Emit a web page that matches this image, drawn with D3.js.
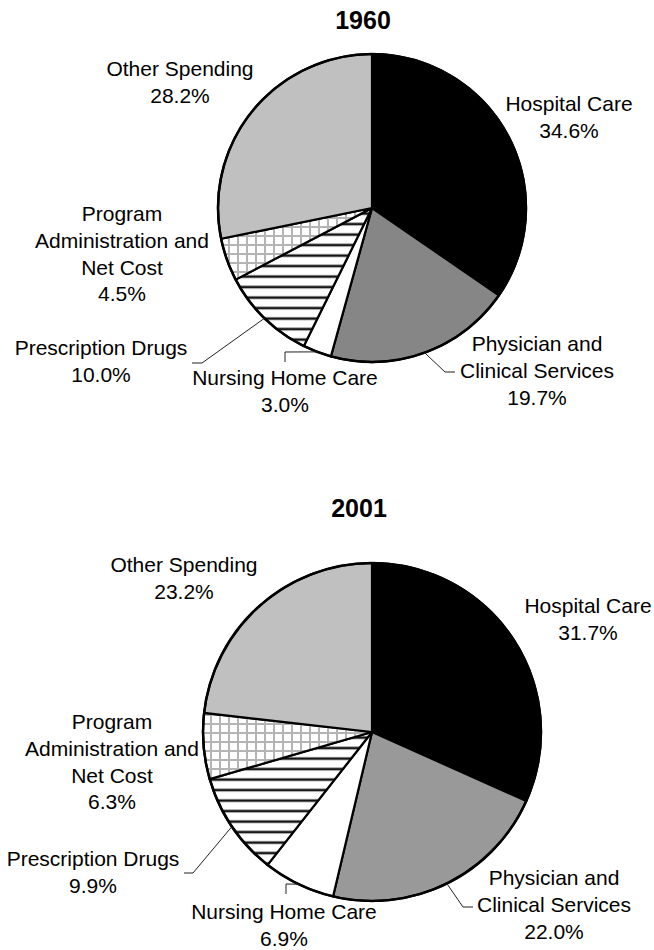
<!DOCTYPE html>
<html><head><meta charset="utf-8">
<script src="https://cdn.jsdelivr.net/npm/d3@7"></script>
<style>body{margin:0;background:#fff}svg{display:block}text{font-family:"Liberation Sans",Arial,sans-serif;fill:#000}</style>
</head><body><div id="chart"></div>
<script>
const categories = ["Hospital Care","Physician and Clinical Services","Nursing Home Care","Prescription Drugs","Program Administration and Net Cost","Other Spending"];
const labelLines = [["Hospital Care"],["Physician and","Clinical Services"],["Nursing Home Care"],["Prescription Drugs"],["Program","Administration and","Net Cost"],["Other Spending"]];
const years = ["1960","2001"];
const values1960 = [34.6,19.7,3.0,10.0,4.5,28.2];
const values2001 = [31.7,22.0,6.9,9.9,6.3,23.2];

const W=654,H=950;
const svg=d3.select("#chart").append("svg").attr("width",W).attr("height",H);
const defs=svg.append("defs");
// stripes
const st=defs.append("pattern").attr("id","stripes").attr("patternUnits","userSpaceOnUse").attr("width",10).attr("height",10.5);
st.append("rect").attr("width",10).attr("height",10.5).attr("fill","#fff");
st.append("rect").attr("y",4).attr("width",10).attr("height",3.2).attr("fill","#9a9a9a");
st.append("rect").attr("y",4.6).attr("width",10).attr("height",2).attr("fill","#111");
// grid
const gr=defs.append("pattern").attr("id","grid").attr("patternUnits","userSpaceOnUse").attr("width",9).attr("height",9);
gr.append("rect").attr("width",9).attr("height",9).attr("fill","#fff");
gr.append("rect").attr("x",0).attr("width",2).attr("height",9).attr("fill","#b4b4b4");
gr.append("rect").attr("y",0).attr("width",9).attr("height",2).attr("fill","#b4b4b4");

const layouts=[
 {cx:372,cy:208,r:154,title:[363,29],fills:["#000","#868686","#fff","url(#stripes)","url(#grid)","#c0c0c0"],
  labels:[[569,111],[537,351],[285,385],[101,355],[122,221],[180,76]],
  leaders:{1:[[445,372],[455,372]],2:[[285,352],[285,362]],3:[[202,363],[192,363]]}},
 {cx:372,cy:732,r:169,title:[359,517],fills:["#000","#999999","#fff","url(#stripes)","url(#grid)","#c0c0c0"],
  labels:[[588,613],[554,885],[284,919],[93,866],[112,729],[184,572]],
  leaders:{1:[[463,907],[473,907]],2:[[286,884],[286,894]],3:[[193,873],[184,873]]}}
];
const data=[values1960,values2001];
const LH=26.8;

layouts.forEach((L,k)=>{
  const vals=data[k];
  const pie=d3.pie().sort(null).value(d=>d)(vals);
  const arc=d3.arc().innerRadius(0).outerRadius(L.r);
  const edge=d3.arc().innerRadius(L.r).outerRadius(L.r);
  const g=svg.append("g").attr("transform",`translate(${L.cx},${L.cy})`);
  g.selectAll("path.slice").data(pie).join("path").attr("class","slice")
   .attr("d",arc).attr("fill",(d,i)=>L.fills[i]).attr("stroke","#000").attr("stroke-width",2.2).attr("stroke-linejoin","round");
  g.append("circle").attr("r",L.r).attr("fill","none").attr("stroke","#000").attr("stroke-width",2.5);
  svg.append("text").attr("x",L.title[0]).attr("y",L.title[1]).attr("text-anchor","middle")
   .attr("font-size",25).attr("font-weight","bold").text(years[k]);
  // leaders
  Object.keys(L.leaders).forEach(key=>{
    const i=+key; const c=edge.centroid(pie[i]);
    const pts=[[L.cx+c[0],L.cy+c[1]],...L.leaders[key]];
    svg.append("path").attr("d",d3.line()(pts)).attr("fill","none").attr("stroke","#222").attr("stroke-width",1);
  });
  // labels
  categories.forEach((c,i)=>{
    const lines=labelLines[i].concat([vals[i].toFixed(1)+"%"]);
    const t=svg.append("text").attr("text-anchor","middle").attr("font-size",21);
    lines.forEach((s,j)=>t.append("tspan").attr("x",L.labels[i][0]).attr("y",L.labels[i][1]+j*LH).text(s));
  });
});
</script></body></html>
